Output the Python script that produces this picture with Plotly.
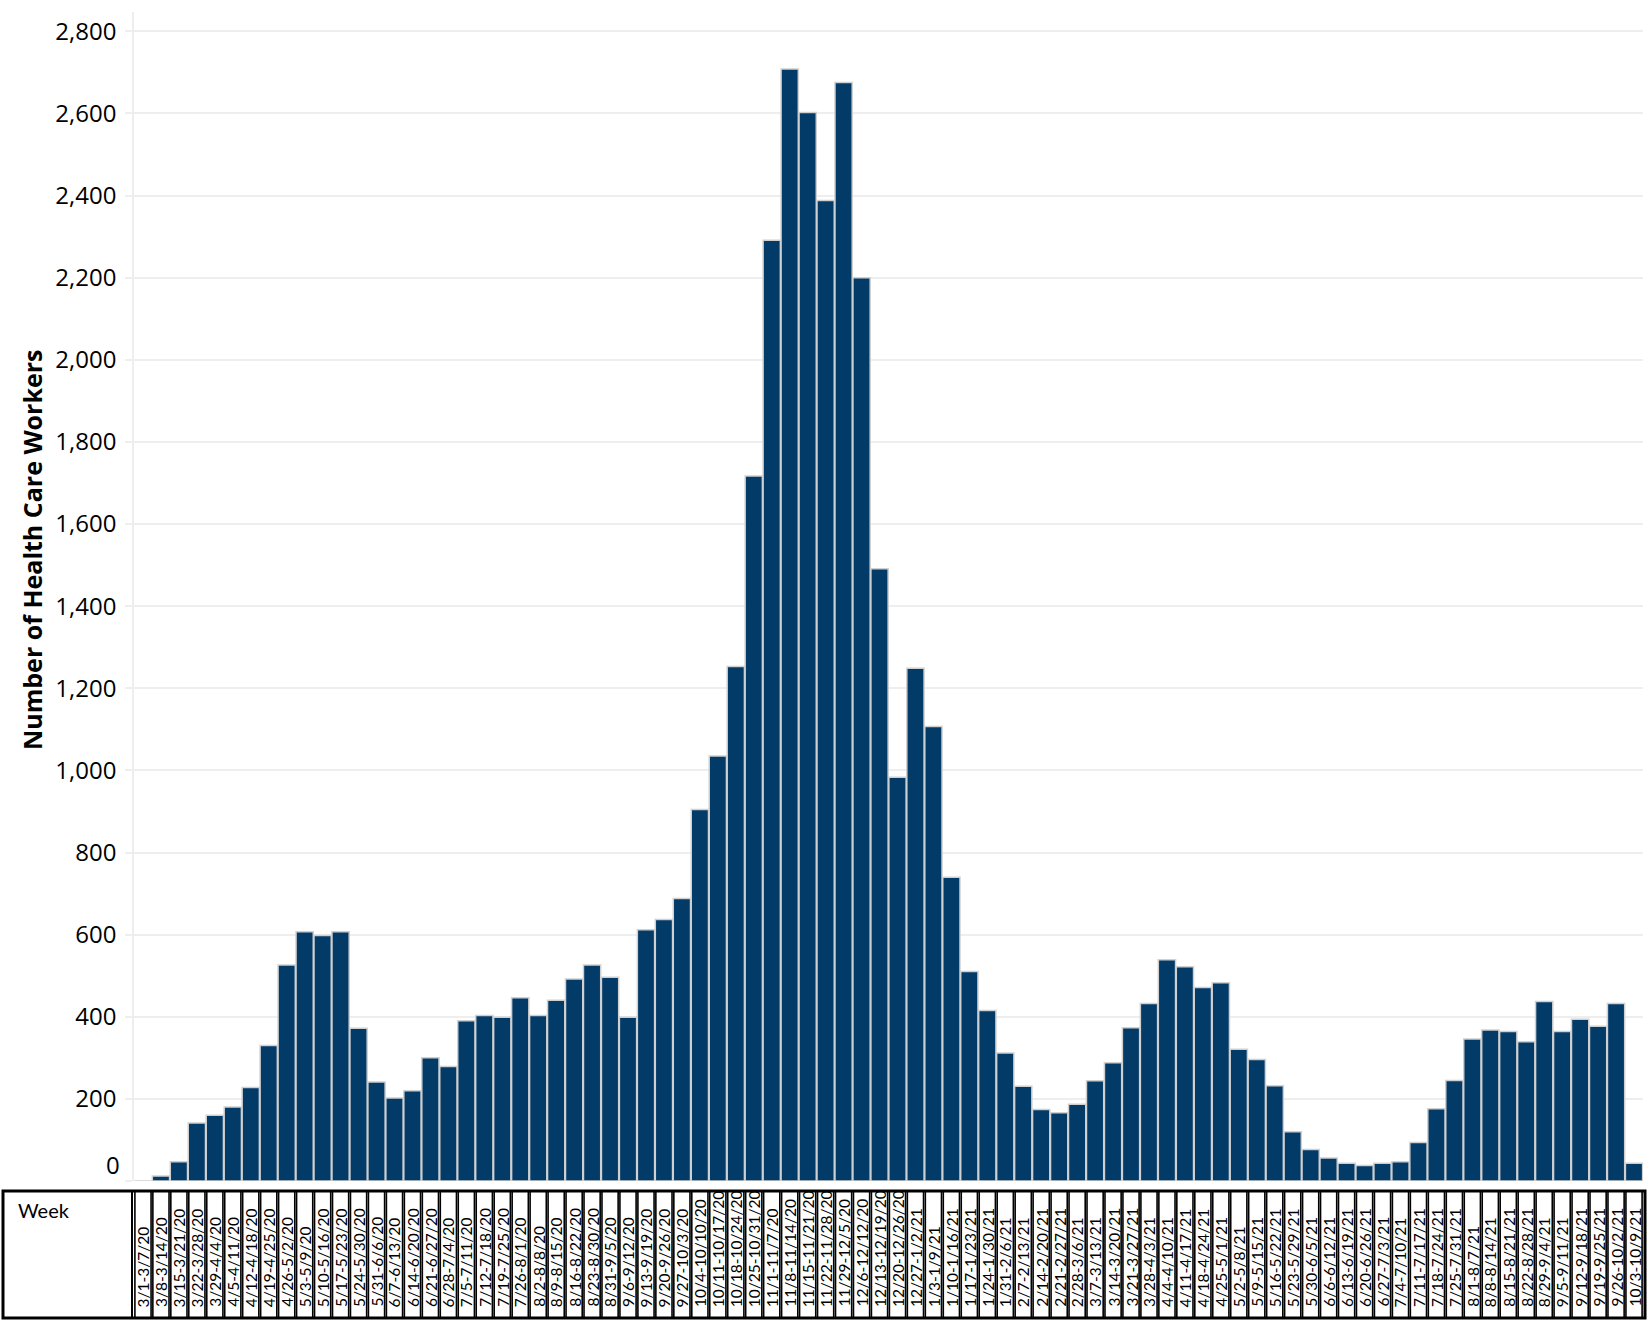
import plotly.graph_objects as go

# weekly counts of health care workers
weeks = [
    "3/1-3/7/20", "3/8-3/14/20", "3/15-3/21/20", "3/22-3/28/20", "3/29-4/4/20",
    "4/5-4/11/20", "4/12-4/18/20", "4/19-4/25/20", "4/26-5/2/20", "5/3-5/9/20",
    "5/10-5/16/20", "5/17-5/23/20", "5/24-5/30/20", "5/31-6/6/20", "6/7-6/13/20",
    "6/14-6/20/20", "6/21-6/27/20", "6/28-7/4/20", "7/5-7/11/20", "7/12-7/18/20",
    "7/19-7/25/20", "7/26-8/1/20", "8/2-8/8/20", "8/9-8/15/20", "8/16-8/22/20",
    "8/23-8/30/20", "8/31-9/5/20", "9/6-9/12/20", "9/13-9/19/20", "9/20-9/26/20",
    "9/27-10/3/20", "10/4-10/10/20", "10/11-10/17/20", "10/18-10/24/20", "10/25-10/31/20",
    "11/1-11/7/20", "11/8-11/14/20", "11/15-11/21/20", "11/22-11/28/20", "11/29-12/5/20",
    "12/6-12/12/20", "12/13-12/19/20", "12/20-12/26/20", "12/27-1/2/21", "1/3-1/9/21",
    "1/10-1/16/21", "1/17-1/23/21", "1/24-1/30/21", "1/31-2/6/21", "2/7-2/13/21",
    "2/14-2/20/21", "2/21-2/27/21", "2/28-3/6/21", "3/7-3/13/21", "3/14-3/20/21",
    "3/21-3/27/21", "3/28-4/3/21", "4/4-4/10/21", "4/11-4/17/21", "4/18-4/24/21",
    "4/25-5/1/21", "5/2-5/8/21", "5/9-5/15/21", "5/16-5/22/21", "5/23-5/29/21",
    "5/30-6/5/21", "6/6-6/12/21", "6/13-6/19/21", "6/20-6/26/21", "6/27-7/3/21",
    "7/4-7/10/21", "7/11-7/17/21", "7/18-7/24/21", "7/25-7/31/21", "8/1-8/7/21",
    "8/8-8/14/21", "8/15-8/21/21", "8/22-8/28/21", "8/29-9/4/21", "9/5-9/11/21",
    "9/12-9/18/21", "9/19-9/25/21", "9/26-10/2/21", "10/3-10/9/21",
]
workers = [
    0, 12, 47, 141, 160, 180, 228, 330, 526, 607,
    598, 607, 372, 241, 202, 220, 300, 279, 390, 403,
    399, 446, 403, 440, 492, 526, 496, 399, 612, 637,
    688, 905, 1035, 1253, 1717, 2291, 2708, 2602, 2388, 2675,
    2200, 1491, 983, 1249, 1107, 740, 510, 415, 312, 231,
    174, 166, 187, 244, 288, 373, 432, 539, 522, 471,
    483, 321, 296, 232, 120, 77, 56, 43, 38, 43,
    47, 94, 176, 245, 346, 368, 364, 339, 437, 364,
    394, 377, 432, 43,
]
y_ticks = list(range(0, 2801, 200))
y_tick_text = [""] + [f"{v:,}" for v in y_ticks[1:]]

NAVY = "#023a68"
GRID = "#eeeeee"

W, H = 1648, 1322
M_L, M_R, M_T, M_B = 134, 5, 12, 4
plot_w = W - M_L - M_R
plot_h = H - M_T - M_B


def px_x(x):
    return (x - M_L) / plot_w


def px_y(y):
    return (H - M_B - y) / plot_h


fig = go.Figure()
fig.add_trace(go.Bar(
    x=weeks, y=workers, width=0.96,
    marker=dict(color=NAVY, line=dict(color="#d0d0d0", width=1.5)),
    hovertemplate="%{x}<br>%{y:,}<extra></extra>",
))
# table row under the chart: one box per week
fig.add_trace(go.Bar(
    x=weeks, y=[1] * len(weeks), width=0.9, yaxis="y2",
    marker=dict(color="white", line=dict(color="black", width=1.6)),
    hoverinfo="skip",
))

annotations = []
for w in weeks:
    annotations.append(dict(
        x=w, xref="x", y=px_y(1309), yref="paper",
        text=w, textangle=-90, xanchor="center", yanchor="bottom",
        showarrow=False, font=dict(family="Lato", size=15.5, color="black"),
    ))
annotations.append(dict(
    x=px_x(16), xref="paper", y=px_y(1196), yref="paper",
    text="Week", xanchor="left", yanchor="top", showarrow=False,
    font=dict(family="Lato", size=20, color="black"),
))
annotations.append(dict(
    x=px_x(122), xref="paper", y=39, yref="y",
    text="0", xanchor="right", yanchor="middle", showarrow=False,
    font=dict(family="Open Sans", size=24, color="black"),
))
annotations.append(dict(
    x=px_x(32), xref="paper", y=px_y(550), yref="paper",
    text="<b>Number of Health Care Workers</b>", textangle=-90,
    xanchor="center", yanchor="middle", showarrow=False,
    font=dict(family="Open Sans", size=25, color="black"),
))

shapes = [
    dict(type="rect", xref="paper", yref="paper",
         x0=px_x(3), x1=px_x(1645), y0=px_y(1318), y1=px_y(1191),
         line=dict(color="black", width=3)),
    dict(type="line", xref="paper", yref="paper",
         x0=px_x(132), x1=px_x(132), y0=px_y(1318), y1=px_y(1191),
         line=dict(color="black", width=2)),
]

fig.update_layout(
    width=W, height=H,
    margin=dict(l=M_L, r=M_R, t=M_T, b=M_B),
    plot_bgcolor="white", paper_bgcolor="white",
    showlegend=False, barmode="overlay",
    xaxis=dict(range=[-0.5, len(weeks) - 0.5], showticklabels=False,
               showgrid=False, zeroline=False, anchor="y"),
    yaxis=dict(domain=[px_y(1181), 1], range=[0, 2847],
               tickvals=y_ticks, ticktext=y_tick_text,
               showgrid=True, gridcolor=GRID, gridwidth=1.5,
               zeroline=False, showline=True, linecolor=GRID, linewidth=1.5,
               ticks="outside", ticklen=7, tickcolor=GRID, tickwidth=1.5,
               ticklabelstandoff=4,
               tickfont=dict(family="Open Sans", size=24, color="black")),
    yaxis2=dict(domain=[0, px_y(1191)], range=[0, 1], visible=False,
                anchor="x", fixedrange=True),
    annotations=annotations,
    shapes=shapes,
)

fig.write_html("out.html", config={"displayModeBar": False},
               post_script="document.body.style.margin='0';")
